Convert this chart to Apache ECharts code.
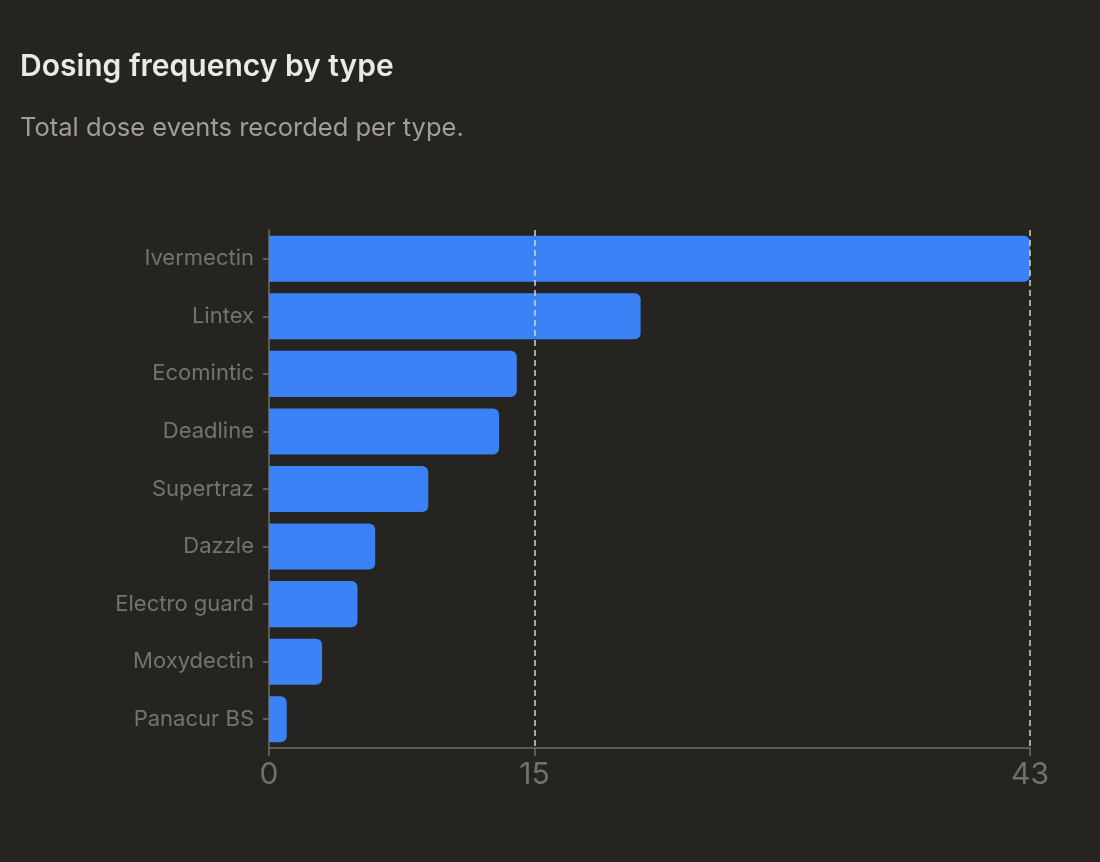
<!DOCTYPE html>
<html>
<head>
<meta charset="utf-8">
<script src="https://cdn.jsdelivr.net/npm/echarts@6/dist/echarts.min.js"></script>
<style>
    html, body {margin: 0; padding: 0; background: #252420;}
    #chart {width: 1100px; height: 862px;}
</style>
</head>
<body>
<div id="chart"></div>
<script>
    var types = ['Ivermectin', 'Lintex', 'Ecomintic', 'Deadline', 'Supertraz', 'Dazzle', 'Electro guard', 'Moxydectin', 'Panacur BS'];
    var doses = [43, 21, 14, 13, 9, 6, 5, 3, 1];
    var xTicks = [0, 15, 43];
    var gridValues = [15, 43];

    var e = echarts.init(document.getElementById('chart'));
    var option = {
        backgroundColor: '#252420',
        textStyle: {fontFamily: 'Inter, "Noto Sans", sans-serif'},
        title: {
            text: 'Dosing frequency by type',
            subtext: 'Total dose events recorded per type.',
            left: 15,
            top: 47,
            itemGap: 33,
            textStyle: {color: '#ece9e3', fontSize: 30, fontWeight: 600, fontFamily: 'Inter, sans-serif'},
            subtextStyle: {color: '#a19d97', fontSize: 25.5, fontFamily: 'Inter, sans-serif'}
        },
        grid: {left: 269, right: 70, top: 230, bottom: 114, containLabel: false},
        xAxis: {
            type: 'value',
            min: 0,
            max: 43,
            axisLine: {show: true, lineStyle: {color: '#6e6c68', width: 1.5}},
            axisTick: {show: true, customValues: xTicks, length: 8, lineStyle: {color: '#6e6c68', width: 1.5}},
            axisLabel: {customValues: xTicks, color: '#72706c', fontSize: 30, margin: 12},
            splitLine: {show: false}
        },
        yAxis: {
            type: 'category',
            data: types,
            inverse: true,
            axisLine: {show: true, lineStyle: {color: '#6e6c68', width: 1.5}},
            axisTick: {show: true, alignWithLabel: true, length: 6, lineStyle: {color: '#6e6c68', width: 1.5}},
            axisLabel: {color: '#75736f', fontSize: 22, margin: 15, lineHeight: 26, verticalAlign: 'middle', padding: [4, 0, 0, 0]}
        },
        series: [{
            type: 'bar',
            data: doses,
            barWidth: '80%',
            itemStyle: {color: '#3b82f6', borderRadius: [0, 6, 6, 0]},
            markLine: {
                silent: true,
                symbol: 'none',
                label: {show: false},
                lineStyle: {color: '#d6d4d0', type: [6, 4], width: 1.5},
                data: gridValues.map(function (v) { return {xAxis: v}; })
            }
        }]
    };
    e.setOption(option);
</script>
</body>
</html>
